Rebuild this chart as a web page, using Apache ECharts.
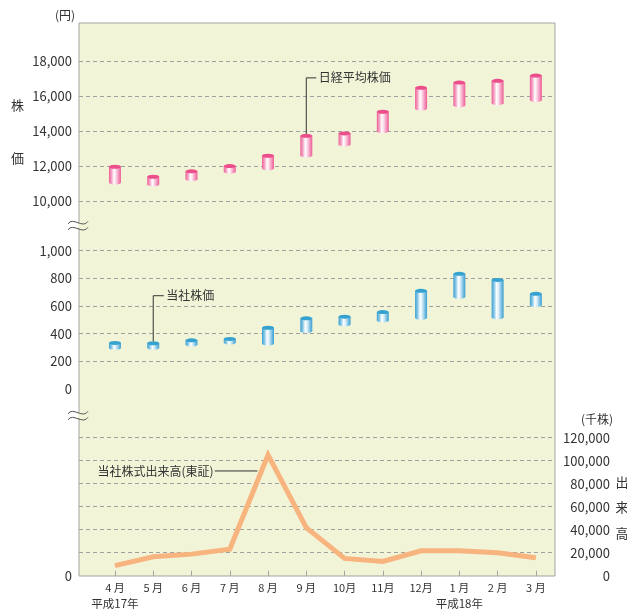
<!DOCTYPE html>
<html>
<head>
<meta charset="utf-8">
<script src="https://cdn.jsdelivr.net/npm/echarts@6/dist/echarts.min.js"></script>
<style>
  html, body { margin: 0; padding: 0; background: #ffffff; }
  #chart { width: 627px; height: 609px; }
</style>
</head>
<body>
<div id="chart"></div>
<script>
// Months of the fiscal year (平成17年4月 – 平成18年3月)
const months = ['4 月', '5 月', '6 月', '7 月', '8 月', '9 月', '10月', '11月', '12月', '1 月', '2 月', '3 月'];
const yearTags = ['平成17年', '', '', '', '', '', '', '', '', '平成18年', '', ''];

// 日経平均株価: monthly high / low (円)
const nikkeiHigh = [11960, 11390, 11700, 12000, 12590, 13730, 13870, 15110, 16480, 16780, 16880, 17180];
const nikkeiLow  = [11060, 10950, 11250, 11680, 11870, 12610, 13240, 14000, 15290, 15480, 15600, 15780];

// 当社株価: monthly high / low (円)
const stockHigh = [333, 331, 352, 362, 443, 511, 523, 556, 710, 833, 789, 688];
const stockLow  = [297, 298, 321, 336, 329, 419, 467, 496, 515, 667, 518, 607];

// 当社株式出来高(東証): monthly volume (千株)
const volume = [8800, 16500, 18800, 23100, 105000, 41800, 15100, 12500, 21700, 21700, 20000, 15700];

// Axis tick values
const nikkeiTicks = { min: 10000, max: 18000, interval: 2000 };
const stockTicks  = { min: 0, max: 1000, interval: 200 };
const volumeTicks = { min: 0, max: 120000, interval: 20000 };

const FONT = "'Noto Sans CJK JP', 'Noto Sans', sans-serif";
const TEXT = '#333333';
const PLOT_BG = '#f1f4d7';
const FRAME = '#a4a4a4';
const GRID_LINE = { color: '#a0a0a0', type: [4, 3], width: 1 };

const idx = months.map((_, i) => i);
const rangeData = (lo, hi) => idx.map(i => [i, lo[i], hi[i]]);

const pinkPalette = {
  cap: '#ec4d8b',
  body: [
    { offset: 0, color: '#ec5f97' },
    { offset: 0.22, color: '#f6a6c6' },
    { offset: 0.42, color: '#ffffff' },
    { offset: 0.6, color: '#fbd3e3' },
    { offset: 0.85, color: '#f286b2' },
    { offset: 1, color: '#ec5f97' }
  ]
};
const bluePalette = {
  cap: '#35a2d0',
  body: [
    { offset: 0, color: '#3b9fd0' },
    { offset: 0.22, color: '#8ccae8' },
    { offset: 0.42, color: '#ffffff' },
    { offset: 0.6, color: '#d3ebf7' },
    { offset: 0.85, color: '#6db8df' },
    { offset: 1, color: '#3b9fd0' }
  ]
};

// Floating cylinder from the month's low to its high, with an optional callout
function cylinder(palette, note) {
  return function (params, api) {
    const x = api.value(0);
    const top = api.coord([x, api.value(2)]);
    const bot = api.coord([x, api.value(1)]);
    const rx = 6, ry = 2;
    const grad = { type: 'linear', x: 0, y: 0, x2: 1, y2: 0, colorStops: palette.body };
    const children = [
      { type: 'rect', shape: { x: top[0] - rx, y: top[1], width: rx * 2, height: bot[1] - top[1] }, style: { fill: grad } },
      { type: 'circle', shape: { cx: 0, cy: 0, r: rx }, x: bot[0], y: bot[1], scaleY: ry / rx, style: { fill: grad } },
      { type: 'circle', shape: { cx: 0, cy: 0, r: rx }, x: top[0], y: top[1], scaleY: ry / rx, style: { fill: palette.cap } }
    ];
    if (note && params.dataIndex === note.index) {
      const yk = top[1] - note.rise;
      children.push({
        type: 'polyline',
        shape: { points: [[top[0], top[1] - ry], [top[0], yk], [top[0] + note.run, yk]] },
        style: { stroke: '#333', lineWidth: 1, fill: null }
      });
      children.push({
        type: 'text', x: top[0] + note.run + 2.5, y: yk,
        style: { text: note.text, font: '12px ' + FONT, fill: TEXT, align: 'left', verticalAlign: 'middle' }
      });
    }
    return { type: 'group', children };
  };
}

const gridBase = { left: 79, width: 476 };
const xBase = { type: 'value', min: -0.94, max: 11.5, show: false };

const numberLabel = {
  color: TEXT, fontSize: 13, fontFamily: FONT, margin: 7,
  formatter: v => v.toLocaleString('en-US')
};

const chart = echarts.init(document.getElementById('chart'), null, { renderer: 'canvas' });

chart.setOption({
  animation: false,
  backgroundColor: '#ffffff',
  grid: [
    Object.assign({}, gridBase, { top: 61.3, height: 139.7 }),
    Object.assign({}, gridBase, { top: 250.7, height: 138.3 }),
    Object.assign({}, gridBase, { top: 437.7, height: 138.3 }),
    Object.assign({}, gridBase, { top: 23, height: 553, show: true, backgroundColor: PLOT_BG, borderColor: FRAME, borderWidth: 1, z: -5 })
  ],
  xAxis: [
    Object.assign({}, xBase, { gridIndex: 0 }),
    Object.assign({}, xBase, { gridIndex: 1 }),
    {
      type: 'value', gridIndex: 2, min: -0.94, max: 11.5,
      axisLine: { show: false },
      splitLine: { show: false },
      axisTick: { show: true, inside: true, length: 5, customValues: idx, lineStyle: { color: FRAME } },
      axisLabel: {
        customValues: idx, margin: 5, color: TEXT, fontFamily: FONT,
        formatter: v => {
          const i = Math.round(v);
          return '{m|' + months[i] + '}' + (yearTags[i] ? '\n{y|' + yearTags[i] + '}' : '');
        },
        rich: {
          m: { fontSize: 11, lineHeight: 15, color: TEXT, fontFamily: FONT },
          y: { fontSize: 11.5, lineHeight: 15, color: TEXT, fontFamily: FONT }
        }
      }
    },
    Object.assign({}, xBase, { gridIndex: 3 })
  ],
  yAxis: [
    {
      type: 'value', gridIndex: 0, min: nikkeiTicks.min, max: nikkeiTicks.max, interval: nikkeiTicks.interval,
      axisLine: { show: false }, axisTick: { show: false },
      axisLabel: numberLabel,
      splitLine: { show: true, lineStyle: GRID_LINE }
    },
    {
      type: 'value', gridIndex: 1, min: stockTicks.min, max: stockTicks.max, interval: stockTicks.interval,
      axisLine: { show: false }, axisTick: { show: false },
      axisLabel: numberLabel,
      splitLine: { show: true, showMinLine: false, lineStyle: GRID_LINE }
    },
    {
      type: 'value', gridIndex: 2, position: 'right',
      min: volumeTicks.min, max: volumeTicks.max, interval: volumeTicks.interval,
      axisLine: { show: false }, axisTick: { show: false },
      axisLabel: Object.assign({}, numberLabel, { align: 'right', margin: 55 }),
      splitLine: { show: true, showMinLine: false, lineStyle: GRID_LINE }
    },
    {
      type: 'value', gridIndex: 2, position: 'left',
      min: volumeTicks.min, max: volumeTicks.max,
      axisLine: { show: false }, axisTick: { show: false }, splitLine: { show: false },
      axisLabel: Object.assign({}, numberLabel, { customValues: [0] })
    },
    { type: 'value', gridIndex: 3, show: false, min: 0, max: 1 }
  ],
  series: [
    {
      name: '日経平均株価', type: 'custom', xAxisIndex: 0, yAxisIndex: 0, clip: false,
      renderItem: cylinder(pinkPalette, { index: 5, rise: 58, run: 10, text: '日経平均株価' }),
      encode: { x: 0, y: [1, 2] },
      data: rangeData(nikkeiLow, nikkeiHigh), z: 3
    },
    {
      name: '当社株価', type: 'custom', xAxisIndex: 1, yAxisIndex: 1, clip: false,
      renderItem: cylinder(bluePalette, { index: 1, rise: 47.5, run: 10.6, text: '当社株価' }),
      encode: { x: 0, y: [1, 2] },
      data: rangeData(stockLow, stockHigh), z: 3
    },
    {
      name: '当社株式出来高(東証)', type: 'line', xAxisIndex: 2, yAxisIndex: 2,
      data: idx.map(i => [i, volume[i]]),
      showSymbol: false, symbol: 'none',
      lineStyle: { color: '#f8b47f', width: 5, join: 'miter' }, z: 3
    },
    {
      // callout for the volume line, anchored on the August peak
      type: 'custom', xAxisIndex: 2, yAxisIndex: 2, clip: false, silent: true,
      data: [[4, volume[4]]],
      renderItem: (params, api) => {
        const p = api.coord([api.value(0), api.value(1)]);
        const y = p[1] + 16;
        return {
          type: 'group', children: [
            { type: 'line', shape: { x1: p[0] - 53.3, y1: y, x2: p[0] - 10.6, y2: y }, style: { stroke: '#333', lineWidth: 1 } },
            { type: 'text', x: p[0] - 54.5, y: y, style: { text: '当社株式出来高(東証)', font: '12px ' + FONT, fill: TEXT, align: 'right', verticalAlign: 'middle' } }
          ]
        };
      }
    }
  ],
  graphic: [
    { type: 'text', x: 65, y: 15.7, style: { text: '(円)', font: '12px ' + FONT, fill: TEXT, align: 'center', verticalAlign: 'middle' } },
    { type: 'text', x: 17.5, y: 105, style: { text: '株', font: '13px ' + FONT, fill: TEXT, align: 'center', verticalAlign: 'middle' } },
    { type: 'text', x: 17.5, y: 158.3, style: { text: '価', font: '13px ' + FONT, fill: TEXT, align: 'center', verticalAlign: 'middle' } },
    { type: 'text', x: 597, y: 419, style: { text: '(千株)', font: '12px ' + FONT, fill: TEXT, align: 'center', verticalAlign: 'middle' } },
    { type: 'text', x: 622, y: 481.7, style: { text: '出', font: '13px ' + FONT, fill: TEXT, align: 'center', verticalAlign: 'middle' } },
    { type: 'text', x: 622, y: 507.3, style: { text: '来', font: '13px ' + FONT, fill: TEXT, align: 'center', verticalAlign: 'middle' } },
    { type: 'text', x: 622, y: 533, style: { text: '高', font: '13px ' + FONT, fill: TEXT, align: 'center', verticalAlign: 'middle' } },
    // axis break marks
    ...[225.3, 415.3].flatMap(cy => [
      { type: 'rect', z: 50, shape: { x: 78, y: cy - 3, width: 3, height: 6 }, style: { fill: PLOT_BG } },
      { type: 'bezierCurve', z: 51, shape: { x1: 68, y1: cy - 1.5, cpx1: 73, cpy1: cy - 9, cpx2: 83, cpy2: cy + 4, x2: 88, y2: cy - 4 }, style: { stroke: '#555', lineWidth: 1, fill: null } },
      { type: 'bezierCurve', z: 51, shape: { x1: 68, y1: cy + 4.5, cpx1: 73, cpy1: cy - 3, cpx2: 83, cpy2: cy + 10, x2: 88, y2: cy + 2 }, style: { stroke: '#555', lineWidth: 1, fill: null } }
    ])
  ]
});
</script>
</body>
</html>
